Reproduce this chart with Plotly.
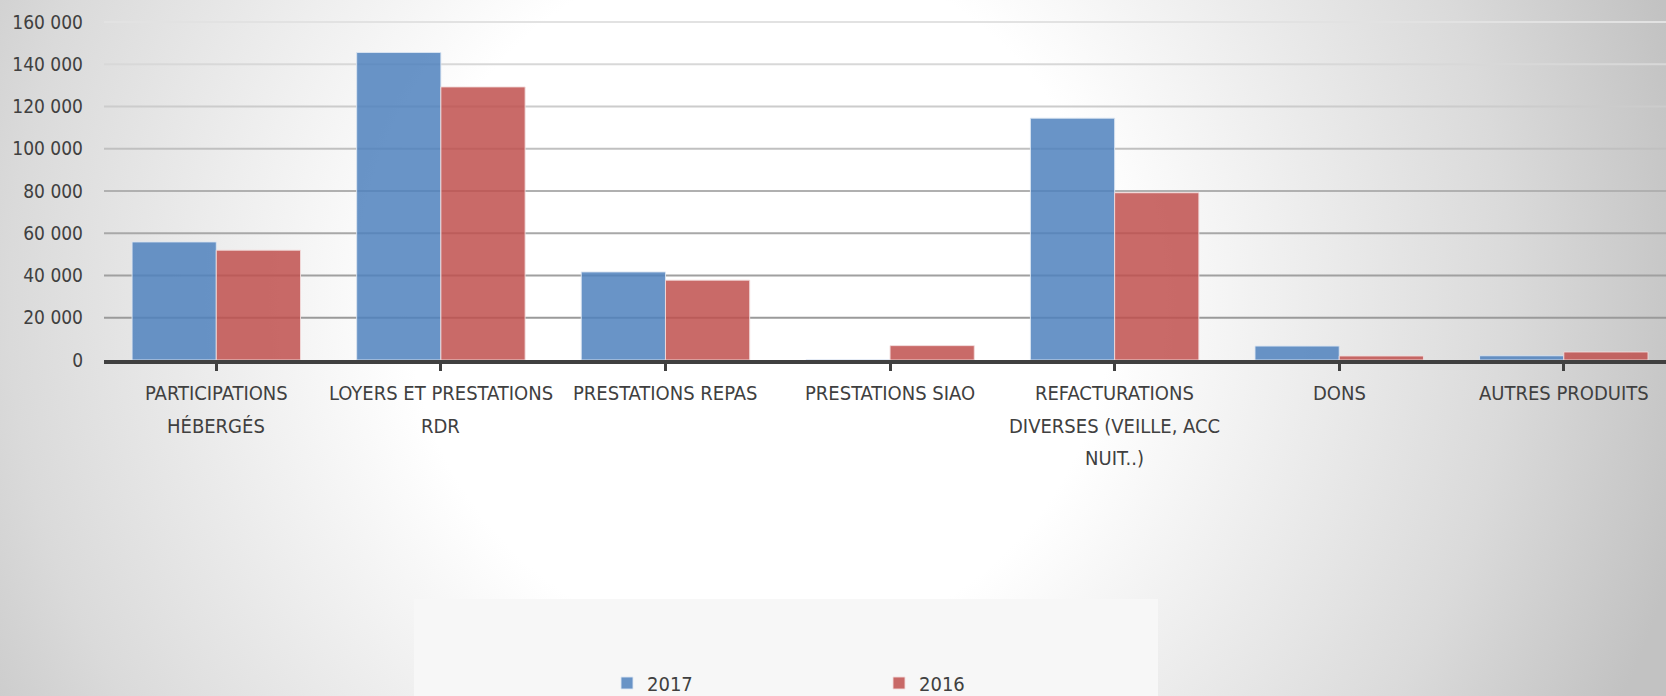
import base64
import plotly.graph_objects as go

# Produits : comparaison 2017 / 2016
categories = [
    ["PARTICIPATIONS", "HÉBERGÉS"],
    ["LOYERS ET PRESTATIONS", "RDR"],
    ["PRESTATIONS REPAS"],
    ["PRESTATIONS SIAO"],
    ["REFACTURATIONS", "DIVERSES (VEILLE, ACC", "NUIT..)"],
    ["DONS"],
    ["AUTRES PRODUITS"],
]
values_2017 = [55900, 145600, 41700, 0, 114500, 6600, 2000]
values_2016 = [52000, 129300, 37800, 6800, 79200, 1900, 3800]
y_ticks = [0, 20000, 40000, 60000, 80000, 100000, 120000, 140000, 160000]

FONT = "Liberation Sans Narrow, DejaVu Sans Condensed, Roboto, sans-serif"
TEXT_COLOR = "#404040"
W, H = 1666, 696
L, R, T, B = 104, 0, 20, 336
PW, PH = W - L - R, H - T - B

x_idx = list(range(len(categories)))

# soft radial background, like the office chart style
svg = (
    f'<svg xmlns="http://www.w3.org/2000/svg" width="{W}" height="{H}">'
    '<defs><radialGradient id="g" gradientUnits="userSpaceOnUse" cx="760" cy="300" r="950">'
    '<stop offset="0" stop-color="#ffffff"/><stop offset="0.37" stop-color="#ffffff"/>'
    '<stop offset="0.79" stop-color="#dadada"/><stop offset="1" stop-color="#c2c2c2"/>'
    '</radialGradient></defs>'
    f'<rect width="{W}" height="{H}" fill="url(#g)"/></svg>'
)
bg_src = "data:image/svg+xml;base64," + base64.b64encode(svg.encode()).decode()

fig = go.Figure()

fig.add_trace(go.Bar(
    x=x_idx, y=values_2017, name="2017",
    marker=dict(color="rgba(79,129,189,0.85)", line=dict(color="rgba(220,230,242,0.9)", width=1)),
))
fig.add_trace(go.Bar(
    x=x_idx, y=values_2016, name="2016",
    marker=dict(color="rgba(192,80,77,0.85)", line=dict(color="rgba(242,220,219,0.9)", width=1)),
))

# gridlines: darker toward the bottom
grid_colors = ["#9a9a9a", "#a0a0a0", "#a8a8a8", "#b0b0b0", "#c0c0c0", "#cccccc", "#d8d8d8", "#e2e2e2"]
for v, c in zip(y_ticks[1:], grid_colors):
    fig.add_shape(type="line", xref="paper", x0=0, x1=1, yref="y", y0=v, y1=v,
                  line=dict(color=c, width=2), layer="below")

# legend area box
fig.add_shape(type="rect", xref="paper", yref="paper",
              x0=(414 - L) / PW, x1=(1158 - L) / PW,
              y0=-B / PH, y1=-(599 - (H - B)) / PH,
              fillcolor="#f7f7f7", line=dict(width=0), layer="below")

# category labels (multi-line, wide line spacing)
for i, lines in enumerate(categories):
    for j, line in enumerate(lines):
        fig.add_annotation(x=i, xref="x", y=0, yref="paper", text=line, showarrow=False,
                           xanchor="center", yanchor="middle", yshift=-(33 + 32.5 * j),
                           font=dict(family=FONT, size=20, color=TEXT_COLOR))

fig.update_layout(
    width=W, height=H,
    margin=dict(l=L, r=R, t=T, b=B, pad=0),
    paper_bgcolor="white",
    plot_bgcolor="rgba(0,0,0,0)",
    barmode="group",
    bargap=0.25,
    bargroupgap=0,
    separators=", ",
    font=dict(family=FONT, size=20, color=TEXT_COLOR),
    images=[dict(source=bg_src, xref="paper", yref="paper",
                 x=-L / PW, y=1 + T / PH,
                 sizex=W / PW, sizey=H / PH,
                 xanchor="left", yanchor="top", sizing="stretch", layer="below")],
    xaxis=dict(
        range=[-0.5, 6.455],
        tickvals=x_idx,
        showticklabels=False,
        showgrid=False,
        zeroline=False,
        showline=True, linecolor=TEXT_COLOR, linewidth=4,
        ticks="outside", tickson="boundaries", ticklen=7, tickwidth=2.5, tickcolor=TEXT_COLOR,
    ),
    yaxis=dict(
        range=[0, 161000],
        tickvals=y_ticks,
        tickformat=",d",
        showgrid=False,
        zeroline=False,
        showline=False,
        ticks="",
        ticklabelstandoff=20,
        tickfont=dict(family=FONT, size=19, color=TEXT_COLOR),
    ),
    showlegend=True,
    legend=dict(
        orientation="h",
        xref="container", yref="container",
        x=607 / W, y=(H - 683) / H,
        xanchor="left", yanchor="middle",
        entrywidth=227, entrywidthmode="pixels",
        bgcolor="rgba(0,0,0,0)",
        font=dict(family=FONT, size=20, color=TEXT_COLOR),
    ),
)

# page body has a default margin; drop it so the figure fills the window
fig.write_html(
    "out.html",
    config={"displayModeBar": False},
    post_script="document.body.style.margin='0';document.body.style.overflow='hidden';",
)
